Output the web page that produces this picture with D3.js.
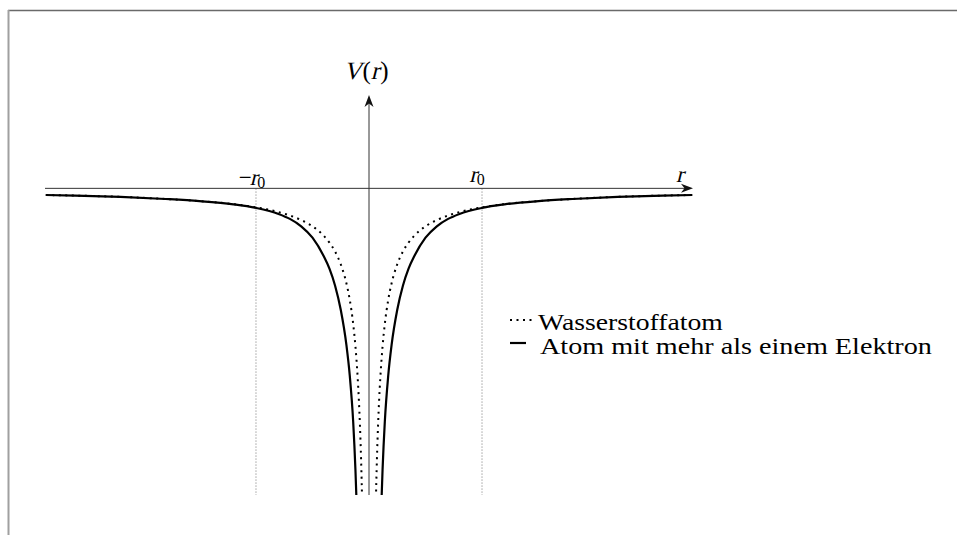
<!DOCTYPE html>
<html>
<head>
<meta charset="utf-8">
<script src="https://cdn.jsdelivr.net/npm/d3@7/dist/d3.min.js"></script>
<style>
  html, body { margin: 0; padding: 0; background: #fff; }
  svg { display: block; }
</style>
</head>
<body>
<svg id="chart" width="957" height="535"></svg>
<script>
// Radius in units of r0, potential in arbitrary units (V = 0 on the r axis)
const rHydrogen = [0.06, 0.07, 0.08, 0.09, 0.10, 0.12, 0.14, 0.17, 0.20, 0.25, 0.30, 0.35, 0.40, 0.50, 0.60, 0.70, 0.80, 1.00, 1.20, 1.50, 1.80, 2.20, 2.60, 2.86];
const vHydrogen = [-16.67, -14.29, -12.50, -11.11, -10.00, -8.33, -7.14, -5.88, -5.00, -4.00, -3.33, -2.86, -2.50, -2.00, -1.67, -1.43, -1.25, -1.00, -0.83, -0.67, -0.56, -0.45, -0.38, -0.35];

const rMulti = [0.11, 0.12, 0.14, 0.17, 0.20, 0.25, 0.30, 0.35, 0.40, 0.50, 0.60, 0.70, 0.80, 1.00, 1.20, 1.50, 1.80, 2.20, 2.60, 2.86];
const vMulti = [-16.55, -14.83, -12.29, -9.88, -8.25, -6.40, -5.13, -4.23, -3.58, -2.60, -2.00, -1.61, -1.35, -1.03, -0.84, -0.67, -0.56, -0.45, -0.38, -0.35];

const legendLabels = ["Wasserstoffatom", "Atom mit mehr als einem Elektron"];

const SERIF = "'Liberation Serif'";

const svg = d3.select("#chart");

// Frame
svg.append("line").attr("x1", 8).attr("x2", 957).attr("y1", 10.5).attr("y2", 10.5)
  .attr("stroke", "#6a6a6a").attr("stroke-width", 1.5);
svg.append("line").attr("x1", 8.5).attr("x2", 8.5).attr("y1", 10).attr("y2", 535)
  .attr("stroke", "#a0a0a0").attr("stroke-width", 2);

const x = d3.scaleLinear().domain([-2.867, 2.867]).range([45, 693]);
const y = d3.scaleLinear().domain([-16.16, 4.92]).range([495, 95]);

svg.append("defs").append("clipPath").attr("id", "plotClip")
  .append("rect").attr("x", 0).attr("y", 0).attr("width", 957).attr("height", y(-16.16));

// r0 guide lines
[-1, 1].forEach(v => {
  svg.append("line")
    .attr("x1", x(v)).attr("x2", x(v))
    .attr("y1", y(0)).attr("y2", y(-16.16))
    .attr("stroke", "#8a8a8a").attr("stroke-width", 0.8)
    .attr("stroke-dasharray", "1.5,1.5");
});

// Axes with arrow tips
const axisColor = "#333";
svg.append("line").attr("x1", x(-2.867)).attr("x2", x(2.867) - 6)
  .attr("y1", y(0)).attr("y2", y(0)).attr("stroke", axisColor).attr("stroke-width", 1);
svg.append("line").attr("x1", x(0)).attr("x2", x(0))
  .attr("y1", y(-16.16)).attr("y2", y(4.92) + 6).attr("stroke", axisColor).attr("stroke-width", 1);

function arrowPath(tx, ty, dirX, dirY) {
  const L = 12, W = 4.5, N = 8.5;
  const px = -dirY, py = dirX;
  const p = [
    [tx, ty],
    [tx - dirX * L + px * W, ty - dirY * L + py * W],
    [tx - dirX * N, ty - dirY * N],
    [tx - dirX * L - px * W, ty - dirY * L - py * W]
  ];
  return "M" + p.map(d => d.join(",")).join("L") + "Z";
}
svg.append("path").attr("d", arrowPath(x(2.867), y(0), 1, 0)).attr("fill", "#111");
svg.append("path").attr("d", arrowPath(x(0), y(4.92), 0, -1)).attr("fill", "#111");

// Curves (mirrored for negative r)
const line = d3.line().x(d => x(d[0])).y(d => y(d[1])).curve(d3.curveMonotoneX);
const plot = svg.append("g").attr("clip-path", "url(#plotClip)");

function branches(rs, vs) {
  const right = rs.map((r, i) => [r, vs[i]]);
  const left = rs.map((r, i) => [-r, vs[i]]).reverse();
  return [left, right];
}

branches(rHydrogen, vHydrogen).forEach(b => {
  plot.append("path").attr("d", line(b)).attr("fill", "none")
    .attr("stroke", "#000").attr("stroke-width", 2)
    .attr("stroke-dasharray", "2,4.5");
});
branches(rMulti, vMulti).forEach(b => {
  plot.append("path").attr("d", line(b)).attr("fill", "none")
    .attr("stroke", "#000").attr("stroke-width", 2.2);
});

// Math labels: pieces laid out left to right; italic pieces are slanted serif glyphs
function mathLabel(cx, baseline, pieces) {
  const g = svg.append("g");
  let cursor = 0;
  pieces.forEach(p => {
    const t = g.append("text")
      .style("font-family", SERIF)
      .attr("font-size", p.size)
      .attr("fill", "#000")
      .text(p.text);
    const tx = cursor + (p.before || 0);
    const ty = p.dy || 0;
    t.attr("transform", p.italic
      ? `translate(${tx},${ty}) skewX(-14)`
      : `translate(${tx},${ty})`);
    cursor = tx + t.node().getComputedTextLength() + (p.after || 0);
  });
  g.attr("transform", `translate(${cx - cursor / 2},${baseline})`);
  return g;
}

mathLabel(x(0) - 3, 79, [
  { text: "V", italic: true, size: 25, after: 1 },
  { text: "(", size: 25 },
  { text: "r", italic: true, size: 25, after: 1 },
  { text: ")", size: 25 }
]);

mathLabel(x(2.75), y(0) - 6, [{ text: "r", italic: true, size: 23 }]);

mathLabel(x(-1) - 4, y(0) - 3, [
  { text: "\u2212", size: 23, after: -2 },
  { text: "r", italic: true, size: 23 },
  { text: "0", size: 16, dy: 3 }
]);
mathLabel(x(1) - 5, y(0) - 6, [
  { text: "r", italic: true, size: 23 },
  { text: "0", size: 16, dy: 3 }
]);

// Legend: keys, then labels widened horizontally to their set widths
const legend = svg.append("g");
legend.append("line").attr("x1", 510).attr("x2", 532).attr("y1", 320).attr("y2", 320)
  .attr("stroke", "#000").attr("stroke-width", 2).attr("stroke-dasharray", "2,4.5");
legend.append("line").attr("x1", 510).attr("x2", 526).attr("y1", 343).attr("y2", 343)
  .attr("stroke", "#000").attr("stroke-width", 2.2);
[[538, 330, 185], [540, 354, 392]].forEach((pos, i) => {
  const t = legend.append("text")
    .style("font-family", SERIF).attr("font-size", 22.5).attr("fill", "#000")
    .text(legendLabels[i]);
  const k = pos[2] / t.node().getComputedTextLength();
  t.attr("transform", `translate(${pos[0]},${pos[1]}) scale(${k},1)`);
});
</script>
</body>
</html>
